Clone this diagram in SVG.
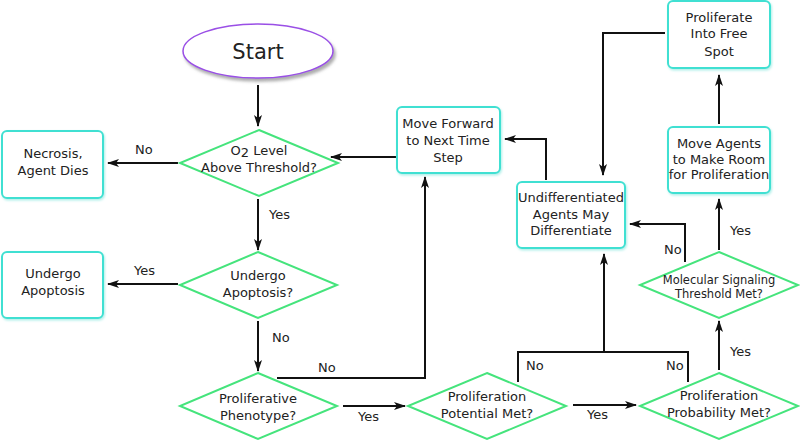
<svg xmlns="http://www.w3.org/2000/svg" width="800" height="441" viewBox="0 0 800 441">
<style>
text{font-family:"DejaVu Sans",Verdana,sans-serif;fill:#222;text-anchor:middle}
.t{font-size:13px}
.s{font-size:11.5px}
.l{font-size:13px;text-anchor:start}
.box{fill:#fff;stroke:#3fe0d2;stroke-width:2;filter:url(#sh)}
.dia{fill:#fff;stroke:#45e47c;stroke-width:2}
.c{fill:none;stroke:#111;stroke-width:2}
</style>
<defs>
<marker id="a" viewBox="0 0 12 8" refX="11" refY="4" markerWidth="12" markerHeight="8" markerUnits="userSpaceOnUse" orient="auto">
<path d="M0,0 L12,4 L0,8 L3,4 z" fill="#111"/>
</marker>
<filter id="sh" x="-10%" y="-10%" width="130%" height="130%">
<feDropShadow dx="1" dy="1.5" stdDeviation="1.2" flood-color="#8ee8e0" flood-opacity="0.7"/>
</filter>
<filter id="sh2" x="-10%" y="-10%" width="130%" height="140%">
<feDropShadow dx="2" dy="3" stdDeviation="1.5" flood-color="#777" flood-opacity="0.6"/>
</filter>
</defs>

<g id="connectors">
<path class="c" d="M258,85 V126" marker-end="url(#a)"/>
<path class="c" d="M178,163 H108" marker-end="url(#a)"/>
<path class="c" d="M397,157 H331" marker-end="url(#a)"/>
<path class="c" d="M258,199 V250" marker-end="url(#a)"/>
<path class="c" d="M178,284 H108" marker-end="url(#a)"/>
<path class="c" d="M258,321 V371" marker-end="url(#a)"/>
<path class="c" d="M277,378 H425 V177" marker-end="url(#a)"/>
<path class="c" d="M343,406 H405" marker-end="url(#a)"/>
<path class="c" d="M573,405 H636" marker-end="url(#a)"/>
<path class="c" d="M518,382 V352 H688 V382"/>
<path class="c" d="M604,352 V254" marker-end="url(#a)"/>
<path class="c" d="M719,370 V321" marker-end="url(#a)"/>
<path class="c" d="M685,262 V224 H630" marker-end="url(#a)"/>
<path class="c" d="M719,250 V199" marker-end="url(#a)"/>
<path class="c" d="M719,124 V75" marker-end="url(#a)"/>
<path class="c" d="M665,33 H603 V175" marker-end="url(#a)"/>
<path class="c" d="M546,180 V139 H505" marker-end="url(#a)"/>
<text class="l" x="135" y="154">No</text>
<text class="l" x="134" y="275">Yes</text>
<text class="l" x="269" y="219">Yes</text>
<text class="l" x="272" y="342">No</text>
<text class="l" x="318" y="372">No</text>
<text class="l" x="358" y="421">Yes</text>
<text class="l" x="587" y="419">Yes</text>
<text class="l" x="526" y="370">No</text>
<text class="l" x="666" y="370">No</text>
<text class="l" x="730" y="356">Yes</text>
<text class="l" x="664" y="254">No</text>
<text class="l" x="730" y="235">Yes</text>
</g>

<g id="start">
<ellipse cx="258" cy="51" rx="75" ry="27" fill="#fff" stroke="#9a4fe6" stroke-width="1.5" filter="url(#sh2)"/>
<text x="258" y="59" style="font-size:21px">Start</text>
</g>

<g id="o2">
<path class="dia" d="M259,130 L338,163 L259,196 L180,163 Z"/>
<text class="t" x="259" y="155">O<tspan dy="2">2</tspan><tspan dy="-2"> Level</tspan></text>
<text class="t" x="259" y="172">Above Threshold?</text>
</g>

<g id="necrosis">
<rect class="box" x="2" y="131" width="101" height="67" rx="5"/>
<text class="t" x="53" y="158">Necrosis,</text>
<text class="t" x="53" y="175">Agent Dies</text>
</g>

<g id="apopq">
<path class="dia" d="M258,252 L337,285 L258,318 L180,285 Z"/>
<text class="t" x="258" y="280">Undergo</text>
<text class="t" x="258" y="297">Apoptosis?</text>
</g>

<g id="apop">
<rect class="box" x="2" y="252" width="101" height="66" rx="5"/>
<text class="t" x="53" y="278">Undergo</text>
<text class="t" x="53" y="295">Apoptosis</text>
</g>

<g id="phen">
<path class="dia" d="M258,373 L337,406 L258,439 L180,406 Z"/>
<text class="t" x="258" y="403">Proliferative</text>
<text class="t" x="258" y="420">Phenotype?</text>
</g>

<g id="moveforward">
<rect class="box" x="397" y="107" width="103" height="66" rx="5"/>
<text class="t" x="448" y="128">Move Forward</text>
<text class="t" x="448" y="145">to Next Time</text>
<text class="t" x="448" y="162">Step</text>
</g>

<g id="undiff">
<rect class="box" x="517" y="182" width="108" height="66" rx="5"/>
<text class="t" x="571" y="202">Undifferentiated</text>
<text class="t" x="571" y="219">Agents May</text>
<text class="t" x="571" y="235">Differentiate</text>
</g>

<g id="potential">
<path class="dia" d="M487,373 L566,406 L487,439 L408,406 Z"/>
<text class="t" x="487" y="401">Proliferation</text>
<text class="t" x="487" y="418">Potential Met?</text>
</g>

<g id="probability">
<path class="dia" d="M719,373 L798,406 L719,439 L640,406 Z"/>
<text class="t" x="719" y="400">Proliferation</text>
<text class="t" x="719" y="417">Probability Met?</text>
</g>

<g id="molecular">
<path class="dia" d="M719,252 L798,285 L719,318 L640,285 Z"/>
<text class="s" x="719" y="284">Molecular Signaling</text>
<text class="s" x="719" y="298">Threshold Met?</text>
</g>

<g id="moveagents">
<rect class="box" x="668" y="127" width="102" height="66" rx="5"/>
<text class="t" x="719" y="148">Move Agents</text>
<text class="t" x="719" y="164">to Make Room</text>
<text class="t" x="719" y="179">for Proliferation</text>
</g>

<g id="freespot">
<rect class="box" x="668" y="1" width="102" height="67" rx="5"/>
<text class="t" x="719" y="22">Proliferate</text>
<text class="t" x="719" y="38">Into Free</text>
<text class="t" x="719" y="56">Spot</text>
</g>
</svg>
